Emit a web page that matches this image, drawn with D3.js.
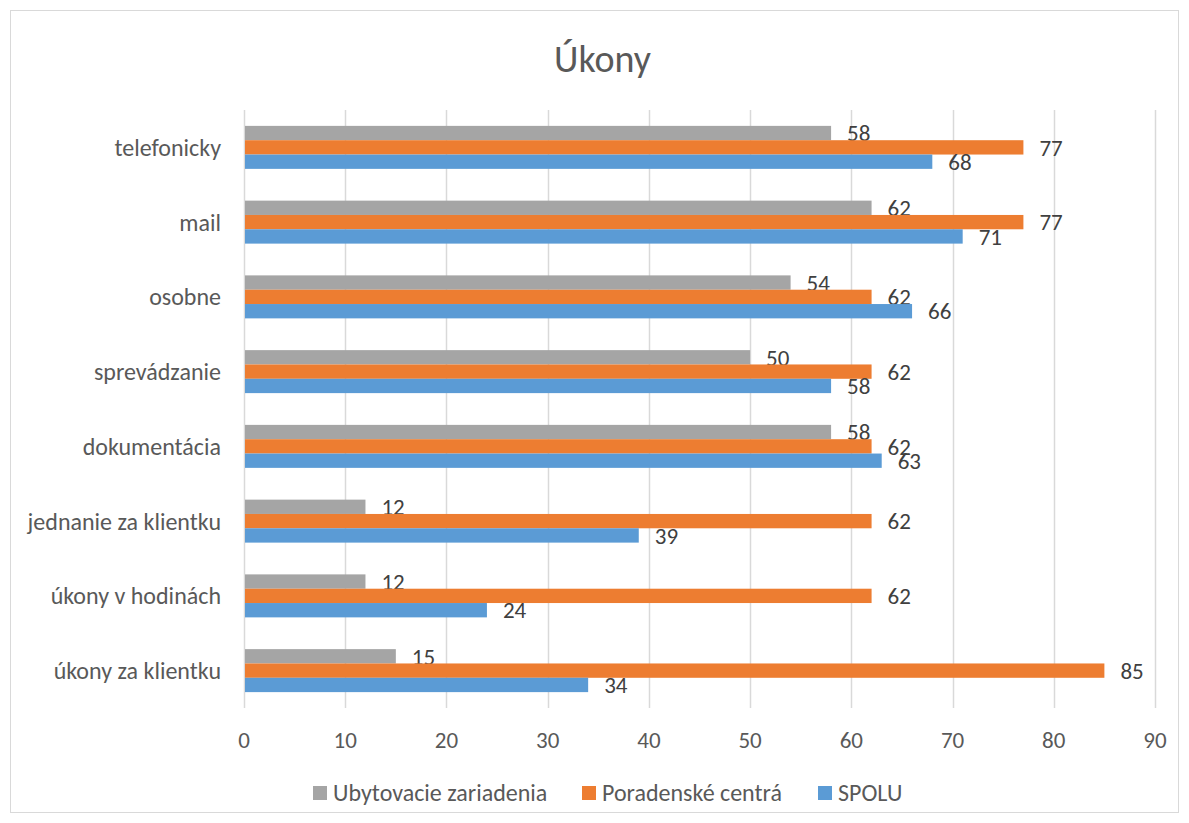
<!DOCTYPE html>
<html>
<head>
<meta charset="utf-8">
<script src="https://cdn.jsdelivr.net/npm/d3@7"></script>
<style>
  body { margin: 0; background: #fff; }
  #svg-container { width: 1189px; height: 823px; }
  text { font-family: Carlito, Lato, "Open Sans", sans-serif; }
</style>
</head>
<body>
<div id="svg-container"></div>
<script>
var categories = ["telefonicky", "mail", "osobne", "sprevádzanie", "dokumentácia",
                  "jednanie za klientku", "úkony v hodinách", "úkony za klientku"];
var seriesNames = ["Ubytovacie zariadenia", "Poradenské centrá", "SPOLU"];
var ubytovacie = [58, 62, 54, 50, 58, 12, 12, 15];
var poradenske = [77, 77, 62, 62, 62, 62, 62, 85];
var spolu = [68, 71, 66, 58, 63, 39, 24, 34];
var xTicks = [0, 10, 20, 30, 40, 50, 60, 70, 80, 90];
var colors = ["#A5A5A5", "#ED7D31", "#5B9BD5"];

var width = 1189, height = 823;
var margin = { top: 110, right: 34, bottom: 115, left: 244 };

var svg = d3.select("#svg-container")
            .append("svg")
            .attr("width", width)
            .attr("height", height);

// outer frame
svg.append("rect")
   .attr("x", 10.5).attr("y", 10.5)
   .attr("width", width - 21).attr("height", height - 21)
   .attr("fill", "#fff")
   .attr("stroke", "#d9d9d9");

svg.append("text")
   .attr("x", width / 2 + 8)
   .attr("y", 72)
   .attr("text-anchor", "middle")
   .attr("font-size", 38)
   .attr("fill", "#595959")
   .text("Úkony");

var g = svg.append("g")
           .attr("transform", "translate(" + margin.left + "," + margin.top + ")");

var innerW = 911, innerH = 598;

var scaleX = d3.scaleLinear().domain([0, 90]).range([0, innerW]);
var scaleY = d3.scaleBand().domain(categories).range([0, innerH]).paddingInner(0.425).paddingOuter(0.2125);
var scaleSeries = d3.scaleBand().domain(d3.range(3)).range([0, scaleY.bandwidth()]);

// gridlines
g.selectAll(".grid")
 .data(xTicks)
 .enter().append("line")
 .attr("x1", function(d) { return Math.round(scaleX(d)) + 0.5; })
 .attr("x2", function(d) { return Math.round(scaleX(d)) + 0.5; })
 .attr("y1", 0)
 .attr("y2", innerH)
 .attr("stroke", "#d9d9d9")
 .attr("stroke-width", 1.5);

// x tick labels
g.selectAll(".xlab")
 .data(xTicks)
 .enter().append("text")
 .attr("x", function(d) { return scaleX(d); })
 .attr("y", innerH + 32)
 .attr("dy", "0.35em")
 .attr("text-anchor", "middle")
 .attr("font-size", 23)
 .attr("fill", "#595959")
 .text(function(d) { return d; });

// category labels
g.selectAll(".ylab")
 .data(categories)
 .enter().append("text")
 .attr("x", -23)
 .attr("y", function(d) { return scaleY(d) + scaleY.bandwidth() / 2; })
 .attr("dy", "0.35em")
 .attr("text-anchor", "end")
 .attr("font-size", 24)
 .attr("fill", "#595959")
 .text(function(d) { return d; });

var series = [ubytovacie, poradenske, spolu];

series.forEach(function(vals, s) {
  var rows = categories.map(function(c, i) { return { cat: c, value: vals[i] }; });

  g.selectAll(".bar" + s)
   .data(rows)
   .enter().append("rect")
   .attr("x", scaleX(0) + 1)
   .attr("y", function(d) { return scaleY(d.cat) + scaleSeries(s); })
   .attr("width", function(d) { return scaleX(d.value) - scaleX(0) - 1; })
   .attr("height", scaleSeries.bandwidth())
   .attr("fill", colors[s]);

  g.selectAll(".lab" + s)
   .data(rows)
   .enter().append("text")
   .attr("x", function(d) { return scaleX(d.value) + 16; })
   .attr("y", function(d) { return scaleY(d.cat) + scaleSeries(s) + scaleSeries.bandwidth() / 2; })
   .attr("dy", "0.36em")
   .attr("font-size", 23)
   .attr("fill", "#404040")
   .text(function(d) { return d.value; });
});

// legend
var legendX = [313, 582, 818];
var legend = svg.selectAll(".legend")
                .data(seriesNames)
                .enter().append("g")
                .attr("transform", function(d, i) { return "translate(" + legendX[i] + ",793)"; });

legend.append("rect")
      .attr("x", 0).attr("y", -7)
      .attr("width", 14).attr("height", 14)
      .attr("fill", function(d, i) { return colors[i]; });

legend.append("text")
      .attr("x", 20)
      .attr("y", 0)
      .attr("dy", "0.35em")
      .attr("font-size", 24)
      .attr("fill", "#595959")
      .text(function(d) { return d; });
</script>
</body>
</html>
